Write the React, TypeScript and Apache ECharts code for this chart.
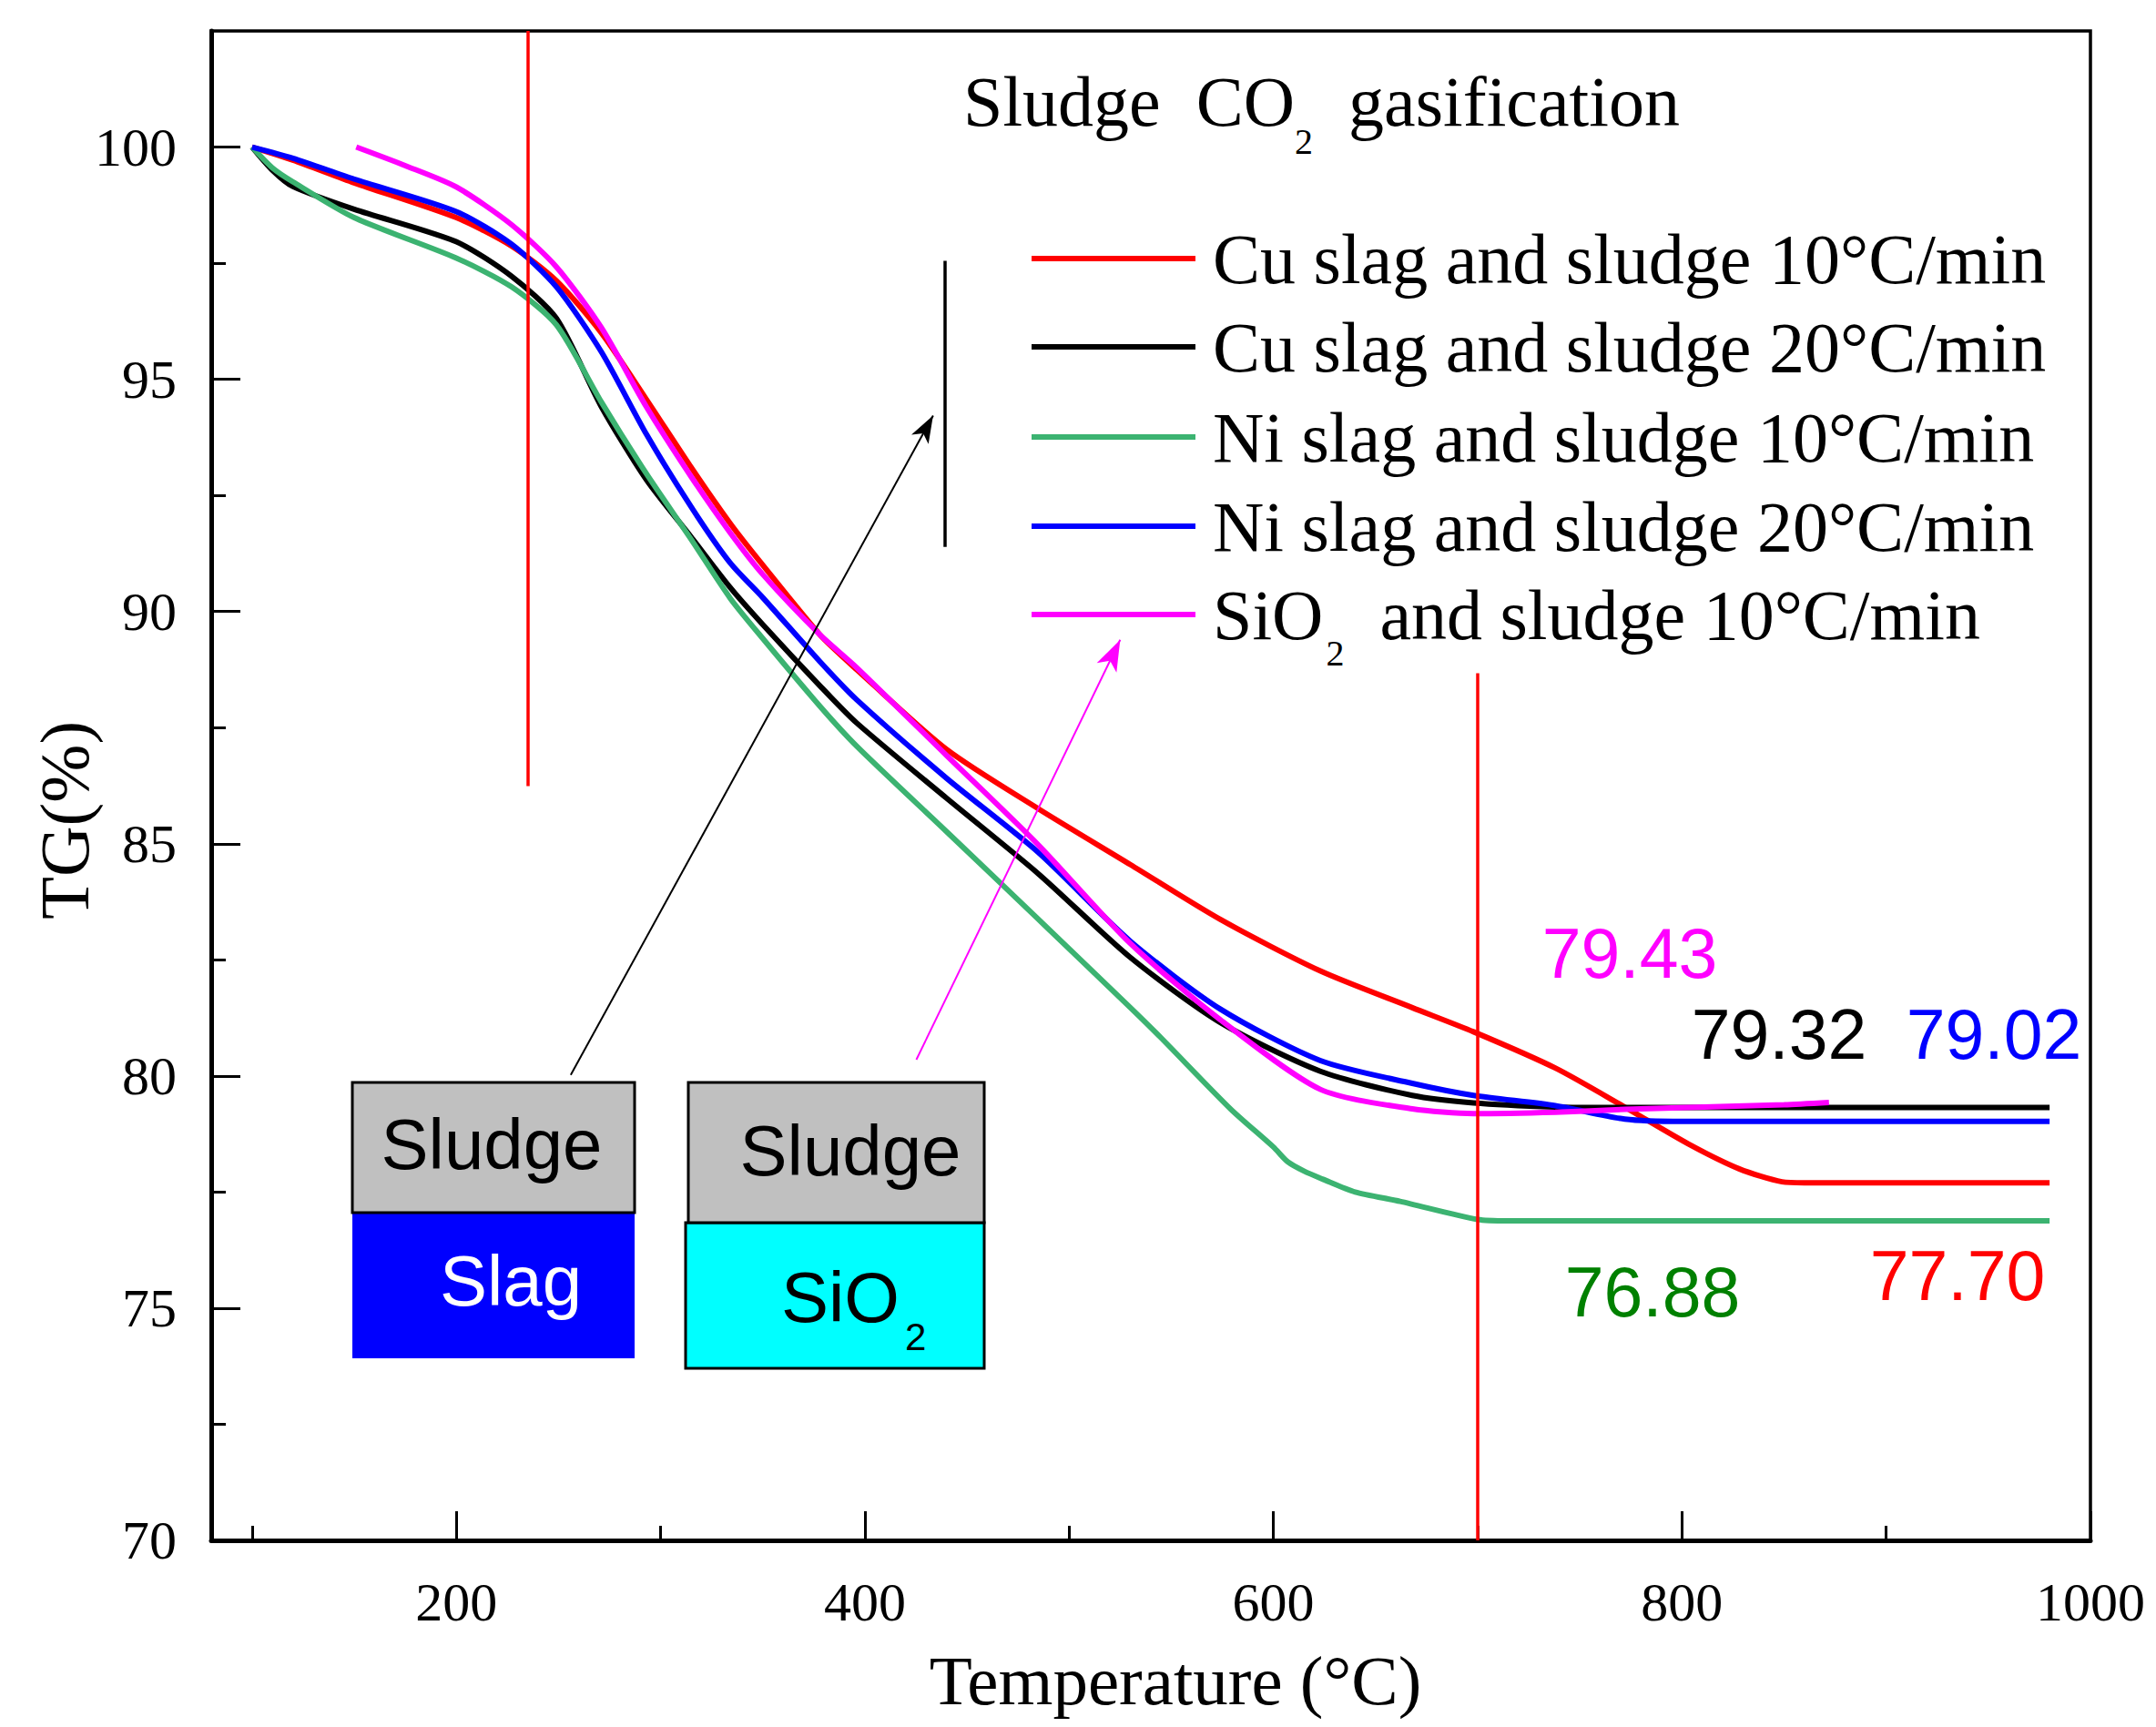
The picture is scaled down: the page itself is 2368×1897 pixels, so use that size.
import React, { useEffect, useRef } from 'react';
import * as echarts from 'echarts';

const W = 2368;
const H = 1897;

// axis ticks
const xMajorTicks = [200, 400, 600, 800, 1000];
const xMinorTicks = [100, 300, 500, 700, 900];
const yMajorTicks = [70, 75, 80, 85, 90, 95, 100];
const yMinorTicks = [72.5, 77.5, 82.5, 87.5, 92.5, 97.5];

// series names and colours
const seriesNames = [
  'Cu slag and sludge 10°C/min',
  'Cu slag and sludge 20°C/min',
  'Ni slag and sludge 10°C/min',
  'Ni slag and sludge 20°C/min',
  'SiO2 and sludge 10°C/min',
];
const seriesColors = ['#FF0000', '#000000', '#3CB371', '#0000FF', '#FF00FF'];

// [Temperature °C, TG %]
const cu10: [number, number][] = [
  [100, 100], [120, 99.72], [150, 99.23], [200, 98.48], [227, 97.87], [249, 97.12], [271, 96.0],
  [293, 94.57], [315, 93.1], [334, 91.9], [350, 91.0], [378, 89.5], [396, 88.75], [440, 87.03],
  [485, 85.75], [530, 84.55], [574, 83.37], [623, 82.26], [668, 81.47], [698, 80.95], [738, 80.17],
  [772, 79.33], [803, 78.54], [828, 78.0], [849, 77.72], [860, 77.7], [980, 77.7],
];
const cu20: [number, number][] = [
  [100, 100], [110, 99.5], [120, 99.15], [150, 98.66], [200, 97.96], [227, 97.22], [249, 96.31],
  [271, 94.41], [293, 92.84], [315, 91.6], [334, 90.52], [350, 89.72], [378, 88.4], [396, 87.6],
  [440, 85.98], [485, 84.35], [530, 82.55], [574, 81.15], [623, 80.1], [668, 79.58], [698, 79.42],
  [738, 79.33], [760, 79.32], [980, 79.32],
];
const ni10: [number, number][] = [
  [100, 100], [110, 99.55], [120, 99.25], [150, 98.48], [200, 97.61], [227, 96.99], [249, 96.17],
  [271, 94.51], [293, 92.97], [315, 91.55], [334, 90.29], [350, 89.42], [378, 87.96], [396, 87.1],
  [440, 85.26], [485, 83.37], [530, 81.47], [545, 80.82], [579, 79.29], [600, 78.47], [607, 78.15],
  [615, 77.95], [624, 77.78], [640, 77.5], [662, 77.3], [700, 76.91], [715, 76.88], [980, 76.88],
];
const ni20: [number, number][] = [
  [100, 100], [120, 99.76], [150, 99.31], [200, 98.61], [227, 97.91], [249, 96.99], [271, 95.59],
  [293, 93.82], [315, 92.25], [334, 91.05], [350, 90.3], [378, 88.92], [396, 88.1], [440, 86.41],
  [485, 84.81], [530, 82.9], [574, 81.44], [623, 80.33], [668, 79.84], [698, 79.58], [738, 79.36],
  [772, 79.07], [800, 79.02], [980, 79.02],
];
const sio10: [number, number][] = [
  [151, 100], [175, 99.6], [200, 99.14], [227, 98.33], [249, 97.42], [271, 96.11], [293, 94.41],
  [315, 92.9], [334, 91.7], [350, 90.8], [378, 89.5], [396, 88.79], [440, 86.9], [485, 84.97],
  [530, 82.85], [574, 81.21], [623, 79.71], [668, 79.29], [698, 79.19], [738, 79.22], [772, 79.28],
  [803, 79.32], [850, 79.38], [872, 79.43],
];
const allSeries = [cu10, cu20, ni10, ni20, sio10];

// annotation lines in data coordinates
const redLine1: [number, number][] = [[235, 102.5], [235, 86.24]];
const redLine2: [number, number][] = [[700, 88.67], [700, 70]];
const blackBar: [number, number][] = [[439, 97.55], [439, 91.39]];
const blackArrow: [number, number][] = [[256, 80.02], [433.4, 94.22]];
const magentaArrow: [number, number][] = [[425.2, 80.35], [525, 89.39]];

// final value labels
const endLabels = ['79.43', '79.32', '79.02', '76.88', '77.70'];
const endLabelColors = ['#FF00FF', '#000000', '#0000FF', '#008000', '#FF0000'];

const SERIF = '"Liberation Serif", "Times New Roman", serif';
const SANS = '"Liberation Sans", Arial, sans-serif';

export default function App() {
  const ref = useRef<HTMLDivElement>(null);
  useEffect(() => {
    if (!ref.current) return;
    const chart = echarts.init(ref.current, null, { renderer: 'svg', width: W, height: H });
    const ctx = document.createElement('canvas').getContext('2d')!;
    const mw = (t: string, size: number, fam: string) => {
      ctx.font = `${size}px ${fam}`;
      return ctx.measureText(t).width;
    };
    const txt = (text: string, x: number, y: number, size: number, fam: string, fill: string, align = 'left', rotation = 0) => ({
      type: 'text', x, y, rotation, silent: true, z: 100,
      style: { text, fontSize: size, fontFamily: fam, fill, textAlign: align, textVerticalAlign: 'middle', align, verticalAlign: 'middle' },
    });

    const graphics: any[] = [];
    // title
    const tX = 1058, tY = 111, tS = 78;
    graphics.push(txt('Sludge', tX, tY, tS, SERIF, '#000'));
    const coX = tX + mw('Sludge  ', tS, SERIF);
    graphics.push(txt('CO', coX, tY, tS, SERIF, '#000'));
    const subX = coX + mw('CO', tS, SERIF);
    graphics.push(txt('2', subX, tY + 44, 40, SERIF, '#000'));
    graphics.push(txt('gasification', subX + mw('2', 40, SERIF) + mw('  ', tS, SERIF), tY, tS, SERIF, '#000'));

    // legend
    const legY = [284, 381, 480, 578, 675];
    for (let i = 0; i < 5; i++) {
      graphics.push({ type: 'line', silent: true, z: 100, shape: { x1: 1133, y1: legY[i], x2: 1313, y2: legY[i] }, style: { stroke: seriesColors[i], lineWidth: 6 } });
      if (i < 4) {
        graphics.push(txt(seriesNames[i], 1332, legY[i], 78, SERIF, '#000'));
      } else {
        graphics.push(txt('SiO', 1332, legY[i], 78, SERIF, '#000'));
        const sx = 1332 + mw('SiO', 78, SERIF) + 3;
        graphics.push(txt('2', sx, legY[i] + 42, 40, SERIF, '#000'));
        graphics.push(txt('and sludge 10°C/min', sx + mw('2', 40, SERIF) + mw('  ', 78, SERIF), legY[i], 78, SERIF, '#000'));
      }
    }

    // boxes
    graphics.push({ type: 'rect', silent: true, z: 50, shape: { x: 387, y: 1332, width: 310, height: 160 }, style: { fill: '#0000FF' } });
    graphics.push({ type: 'rect', silent: true, z: 51, shape: { x: 387, y: 1189, width: 310, height: 143 }, style: { fill: '#C0C0C0', stroke: '#000', lineWidth: 3 } });
    graphics.push({ type: 'rect', silent: true, z: 50, shape: { x: 753, y: 1343, width: 328, height: 160 }, style: { fill: '#00FFFF', stroke: '#000', lineWidth: 3 } });
    graphics.push({ type: 'rect', silent: true, z: 51, shape: { x: 756, y: 1189, width: 325, height: 154 }, style: { fill: '#C0C0C0', stroke: '#000', lineWidth: 3 } });
    graphics.push(txt('Sludge', 540, 1257, 78, SANS, '#000', 'center'));
    graphics.push(txt('Slag', 561, 1407, 78, SANS, '#FFFFFF', 'center'));
    graphics.push(txt('Sludge', 934, 1264, 78, SANS, '#000', 'center'));
    graphics.push(txt('SiO', 858, 1425, 78, SANS, '#000'));
    graphics.push(txt('2', 858 + mw('SiO', 78, SANS) + 6, 1468, 42, SANS, '#000'));

    // end value labels
    const labelPos = [[1790, 1047], [1954, 1136], [2190, 1136], [1815, 1419], [2150, 1401]];
    for (let i = 0; i < 5; i++) {
      graphics.push(txt(endLabels[i], labelPos[i][0], labelPos[i][1], 77, SANS, endLabelColors[i], 'center'));
    }

    // axis names
    graphics.push(txt('Temperature (°C)', 1291, 1846, 77, SERIF, '#000', 'center'));
    graphics.push(txt('TG(%)', 71, 901, 77, SERIF, '#000', 'center', Math.PI / 2));

    const mkLine = (pts: [number, number][], color: string, width: number, arrow: boolean, size: number[] = [16, 30]) => [
      { coord: pts[0], symbol: 'none', lineStyle: { color, width, type: 'solid' } },
      { coord: pts[1], symbol: arrow ? 'arrow' : 'none', symbolSize: size, itemStyle: { color }, lineStyle: { color, width, type: 'solid' } },
    ];

    const series: any[] = allSeries.map((d, i) => ({
      type: 'line',
      name: seriesNames[i],
      data: d,
      showSymbol: false,
      symbol: 'none',
      smooth: 0.25,
      lineStyle: { color: seriesColors[i], width: 6 },
      itemStyle: { color: seriesColors[i] },
      z: 3,
    }));
    series.push({
      type: 'line',
      data: [],
      z: 4,
      markLine: {
        silent: true,
        animation: false,
        symbol: ['none', 'none'],
        label: { show: false },
        emphasis: { disabled: true },
        data: [
          mkLine(redLine1, '#FF0000', 3.5, false),
          mkLine(redLine2, '#FF0000', 3.5, false),
          mkLine(blackBar, '#000000', 3.5, false),
          mkLine(blackArrow, '#000000', 2, true, [16, 30]),
          mkLine(magentaArrow, '#FF00FF', 2, true, [18, 34]),
        ],
      },
    });

    const labelFont = { fontFamily: SERIF, fontSize: 60, color: '#000', formatter: (v: number) => String(v) };
    const option: any = {
      animation: false,
      backgroundColor: '#FFFFFF',
      grid: { left: 232, right: 72, top: 34, bottom: 205, show: true, borderColor: '#000', borderWidth: 3.5, backgroundColor: 'transparent', containLabel: false, outerBoundsMode: 'none' },
      xAxis: [
        {
          type: 'value', min: 80, max: 1000, position: 'bottom',
          axisLine: { show: true, lineStyle: { color: '#000', width: 5 } },
          axisTick: { show: true, inside: true, length: 32, lineStyle: { color: '#000', width: 3 }, customValues: xMajorTicks },
          axisLabel: { show: true, margin: 38, ...labelFont, customValues: xMajorTicks },
          splitLine: { show: false },
        },
        {
          type: 'value', min: 80, max: 1000, position: 'bottom',
          axisLine: { show: false },
          axisTick: { show: true, inside: true, length: 16, lineStyle: { color: '#000', width: 3 }, customValues: xMinorTicks },
          axisLabel: { show: false },
          splitLine: { show: false },
        },
      ],
      yAxis: [
        {
          type: 'value', min: 70, max: 102.5, position: 'left',
          axisLine: { show: true, lineStyle: { color: '#000', width: 5 } },
          axisTick: { show: true, inside: true, length: 32, lineStyle: { color: '#000', width: 3 }, customValues: yMajorTicks },
          axisLabel: { show: true, margin: 38, ...labelFont, customValues: yMajorTicks },
          splitLine: { show: false },
        },
        {
          type: 'value', min: 70, max: 102.5, position: 'left',
          axisLine: { show: false },
          axisTick: { show: true, inside: true, length: 16, lineStyle: { color: '#000', width: 3 }, customValues: yMinorTicks },
          axisLabel: { show: false },
          splitLine: { show: false },
        },
      ],
      series,
      graphic: { elements: graphics },
    };
    chart.setOption(option);
    return () => chart.dispose();
  }, []);
  return <div ref={ref} style={{ position: 'absolute', left: 0, top: 0, width: W, height: H, background: '#fff' }} />;
}
